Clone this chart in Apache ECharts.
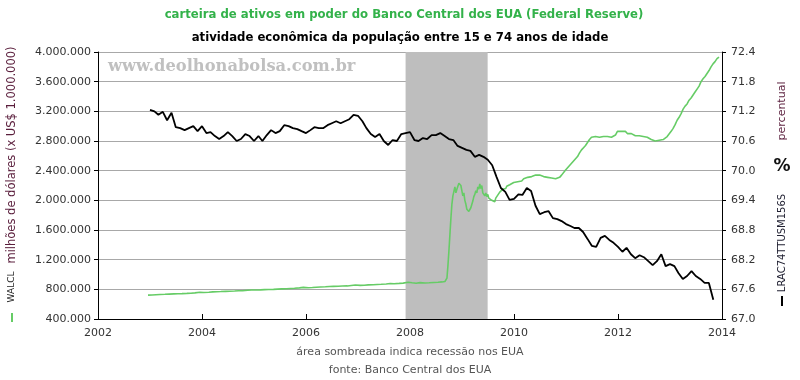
<!DOCTYPE html>
<html><head><meta charset="utf-8">
<script src="https://cdn.jsdelivr.net/npm/echarts@6/dist/echarts.min.js"></script>
<style>html,body{margin:0;padding:0;background:#fff}#c{width:800px;height:380px}</style>
</head><body><div id="c"></div>
<script>
// ---- data ----
const titleTop = 'carteira de ativos em poder do Banco Central dos EUA (Federal Reserve)';
const titleSub = 'atividade econômica da população entre 15 e 74 anos de idade';
const leftAxisName = 'milhões de dólares (x US$ 1.000.000)';
const rightAxisName = 'percentual';
const greenSeriesName = 'WALCL';
const blackSeriesName = 'LRAC74TTUSM156S';
const noteText = 'área sombreada indica recessão nos EUA';
const sourceText = 'fonte: Banco Central dos EUA';
const watermark = 'www.deolhonabolsa.com.br';
const recessionStart = '2007-12-01';
const recessionEnd = '2009-06-30';
const xTicks = [2002, 2004, 2006, 2008, 2010, 2012, 2014];

const greenDates = [
'2002-12-18','2003-01-15','2003-02-12','2003-03-12','2003-04-16','2003-05-14','2003-06-18','2003-07-16','2003-08-13','2003-09-17','2003-10-15','2003-11-12','2003-12-17',
'2004-01-14','2004-02-18','2004-03-17','2004-04-14','2004-05-12','2004-06-16','2004-07-14','2004-08-18','2004-09-15','2004-10-13','2004-11-17','2004-12-15',
'2005-01-12','2005-02-16','2005-03-16','2005-04-13','2005-05-18','2005-06-15','2005-07-13','2005-08-17','2005-09-14','2005-10-12','2005-11-16','2005-12-14',
'2006-01-18','2006-02-15','2006-03-15','2006-04-12','2006-05-17','2006-06-14','2006-07-12','2006-08-16','2006-09-13','2006-10-18','2006-11-15','2006-12-13',
'2007-01-17','2007-02-14','2007-03-14','2007-04-18','2007-05-16','2007-06-13','2007-07-18','2007-08-15','2007-09-12','2007-10-17','2007-11-14','2007-12-19',
'2008-01-16','2008-02-13','2008-03-12','2008-04-16','2008-05-14','2008-06-18','2008-07-16','2008-08-13','2008-08-27','2008-09-03','2008-09-10','2008-09-17','2008-09-24',
'2008-10-01','2008-10-08','2008-10-15','2008-10-22','2008-10-29','2008-11-05','2008-11-12','2008-11-19','2008-11-26','2008-12-03','2008-12-10','2008-12-17','2008-12-24','2008-12-31',
'2009-01-07','2009-01-14','2009-01-21','2009-01-28','2009-02-04','2009-02-11','2009-02-18','2009-02-25','2009-03-04','2009-03-11','2009-03-18','2009-03-25',
'2009-04-01','2009-04-08','2009-04-15','2009-04-22','2009-04-29','2009-05-06','2009-05-13','2009-05-20','2009-05-27','2009-06-03','2009-06-10','2009-06-17','2009-06-24',
'2009-07-01','2009-07-08','2009-07-15','2009-07-22','2009-07-29','2009-08-05','2009-08-12','2009-08-19','2009-08-26','2009-09-02','2009-09-09','2009-09-16','2009-09-23','2009-09-30',
'2009-10-07','2009-10-14','2009-10-21','2009-10-28','2009-11-04','2009-11-11','2009-11-18','2009-11-25','2009-12-02','2009-12-09','2009-12-16','2009-12-30',
'2010-01-13','2010-01-27','2010-02-10','2010-02-24','2010-03-10','2010-03-24','2010-04-07','2010-04-21','2010-05-05','2010-05-19','2010-06-02','2010-06-16','2010-06-30',
'2010-07-14','2010-07-28','2010-08-11','2010-08-25','2010-09-08','2010-09-22','2010-10-06','2010-10-20','2010-11-03','2010-11-17','2010-12-01','2010-12-15','2010-12-29',
'2011-01-12','2011-01-26','2011-02-09','2011-02-23','2011-03-09','2011-03-23','2011-04-06','2011-04-20','2011-05-04','2011-05-18','2011-06-01','2011-06-15','2011-06-29',
'2011-07-13','2011-07-27','2011-08-10','2011-08-24','2011-09-07','2011-09-21','2011-10-05','2011-10-19','2011-11-02','2011-11-16','2011-11-30','2011-12-14','2011-12-28',
'2012-01-11','2012-01-25','2012-02-08','2012-02-22','2012-03-07','2012-03-21','2012-04-04','2012-04-18','2012-05-02','2012-05-16','2012-05-30','2012-06-13','2012-06-27',
'2012-07-11','2012-07-25','2012-08-08','2012-08-22','2012-09-05','2012-09-19','2012-10-03','2012-10-17','2012-10-31','2012-11-14','2012-11-28','2012-12-12','2012-12-26',
'2013-01-09','2013-01-23','2013-02-06','2013-02-20','2013-03-06','2013-03-20','2013-04-03','2013-04-17','2013-05-01','2013-05-15','2013-05-29','2013-06-12','2013-06-26',
'2013-07-10','2013-07-24','2013-08-07','2013-08-21','2013-09-04','2013-09-18','2013-10-02','2013-10-16','2013-10-30','2013-11-13','2013-11-27','2013-12-11'
];
const greenValues = [
722000,724000,727000,730000,733000,736000,739000,741000,742000,745000,748000,752000,760000,
758000,761000,766000,768000,770000,773000,774000,777000,780000,781000,788000,792000,
790000,793000,796000,798000,800000,803000,806000,808000,812000,814000,820000,826000,
822000,824000,828000,832000,835000,838000,840000,842000,845000,846000,852000,858000,
853000,856000,860000,862000,866000,868000,872000,878000,876000,880000,884000,895000,
888000,882000,890000,885000,888000,892000,895000,900000,905000,906000,912000,950000,1120000,
1320000,1540000,1760000,1950000,2060000,2120000,2180000,2100000,2150000,2160000,2230000,2250000,2200000,2180000,
2060000,2100000,2000000,1950000,1880000,1900000,1850000,1860000,1900000,1920000,1990000,2050000,
2080000,2130000,2100000,2180000,2150000,2220000,2160000,2200000,2100000,2120000,2060000,2100000,2050000,
2080000,2030000,2050000,2010000,2000000,1990000,2010000,1980000,2030000,2050000,2070000,2090000,2110000,2100000,
2130000,2150000,2140000,2170000,2160000,2190000,2180000,2200000,2210000,2200000,2230000,2240000,
2230000,2250000,2270000,2260000,2290000,2300000,2310000,2320000,2320000,2330000,2340000,2330000,2340000,
2330000,2320000,2320000,2310000,2300000,2300000,2300000,2290000,2300000,2310000,2340000,2360000,2410000,
2430000,2470000,2500000,2530000,2560000,2590000,2640000,2680000,2710000,2740000,2780000,2820000,2850000,
2870000,2860000,2870000,2850000,2870000,2860000,2850000,2860000,2860000,2850000,2870000,2880000,2930000,
2920000,2930000,2920000,2930000,2900000,2890000,2900000,2880000,2870000,2860000,2870000,2860000,2860000,
2850000,2850000,2830000,2820000,2810000,2800000,2800000,2810000,2800000,2820000,2840000,2860000,2880000,
2930000,2970000,3020000,3080000,3120000,3170000,3230000,3270000,3300000,3350000,3380000,3420000,3460000,
3500000,3540000,3600000,3640000,3670000,3710000,3750000,3800000,3840000,3870000,3910000,3930000
];

const blackStart = '2003-01';
const blackValues = [
71.23,71.20,71.13,71.19,71.02,71.17,70.88,70.86,70.82,70.86,70.90,70.80,
70.90,70.76,70.78,70.70,70.64,70.70,70.78,70.70,70.60,70.64,70.74,70.70,
70.60,70.70,70.60,70.72,70.82,70.76,70.80,70.92,70.90,70.86,70.84,70.80,
70.76,70.82,70.88,70.86,70.86,70.92,70.96,71.00,70.96,71.00,71.04,71.13,
71.11,71.00,70.86,70.74,70.68,70.74,70.60,70.52,70.62,70.60,70.74,70.76,
70.78,70.62,70.60,70.66,70.64,70.72,70.72,70.76,70.70,70.64,70.62,70.50,
70.46,70.42,70.40,70.28,70.32,70.28,70.22,70.11,69.87,69.65,69.57,69.41,
69.43,69.52,69.51,69.65,69.59,69.29,69.12,69.16,69.18,69.04,69.02,68.98,
68.92,68.88,68.84,68.84,68.76,68.62,68.48,68.46,68.64,68.68,68.60,68.54,
68.46,68.36,68.44,68.31,68.23,68.29,68.25,68.17,68.09,68.17,68.31,68.07,
68.11,68.07,67.93,67.81,67.87,67.97,67.87,67.81,67.73,67.73,67.39
];

// ---- helpers ----
function toYear(s) {
  const p = s.split('-').map(Number);
  const y = p[0], m = (p[1] || 1) - 1, d = p[2] || 1;
  const t = Date.UTC(y, m, d), t0 = Date.UTC(y, 0, 1), t1 = Date.UTC(y + 1, 0, 1);
  return y + (t - t0) / (t1 - t0);
}
function monthSeq(start, n) {
  const p = start.split('-').map(Number);
  const out = [];
  for (let i = 0; i < n; i++) {
    const mm = p[1] - 1 + i;
    const y = p[0] + Math.floor(mm / 12), m = (mm % 12) + 1;
    out.push(y + '-' + (m < 10 ? '0' + m : m) + '-01');
  }
  return out;
}
function dots(v) { return String(Math.round(v)).replace(/\B(?=(\d{3})+(?!\d))/g, '.'); }

const blackDates = monthSeq(blackStart, blackValues.length);
const greenData = greenDates.map((d, i) => [toYear(d), greenValues[i]]);
const blackData = blackDates.map((d, i) => [toYear(d), blackValues[i]]);

const FONT = '"DejaVu Sans", Verdana, sans-serif';
const chart = echarts.init(document.getElementById('c'), null, {renderer: 'canvas'});
chart.setOption({
  animation: false,
  backgroundColor: '#ffffff',
  grid: {left: 98, right: 78, top: 52, bottom: 61},
  xAxis: {
    type: 'value', min: xTicks[0], max: xTicks[xTicks.length - 1], interval: 2,
    axisLine: {show: true, lineStyle: {color: '#000', width: 1}},
    axisTick: {show: true, inside: true, length: 5, lineStyle: {color: '#000'}},
    axisLabel: {color: '#333', fontFamily: FONT, fontSize: 11, margin: 9, formatter: v => String(v)},
    splitLine: {show: false}
  },
  yAxis: [{
    type: 'value', position: 'left', min: 400000, max: 4000000, interval: 400000,
    axisLine: {show: true, lineStyle: {color: '#000', width: 1}},
    axisTick: {show: true, length: 4, lineStyle: {color: '#000'}},
    axisLabel: {color: '#333', fontFamily: FONT, fontSize: 11, margin: 7, formatter: v => dots(v)},
    splitLine: {show: true, lineStyle: {color: '#a8a8a8', width: 1}}
  }, {
    type: 'value', position: 'right', min: 67.0, max: 72.4, interval: 0.6,
    axisLine: {show: true, lineStyle: {color: '#000', width: 1}},
    axisTick: {show: true, length: 4, lineStyle: {color: '#000'}},
    axisLabel: {color: '#333', fontFamily: FONT, fontSize: 11, margin: 9, formatter: v => v.toFixed(1)},
    splitLine: {show: false}
  }],
  series: [{
    name: greenSeriesName, type: 'line', yAxisIndex: 0, data: greenData,
    showSymbol: false, symbol: 'none', z: 2,
    lineStyle: {color: '#66cc66', width: 1.6},
    markArea: {
      silent: true, z: 1,
      itemStyle: {color: '#bebebe'},
      data: [[{xAxis: toYear(recessionStart)}, {xAxis: toYear(recessionEnd)}]]
    }
  }, {
    name: blackSeriesName, type: 'line', yAxisIndex: 1, data: blackData,
    showSymbol: false, symbol: 'none', z: 3,
    lineStyle: {color: '#000000', width: 1.8}
  }],
  graphic: [
    {type: 'text', x: 404, y: 15, style: {text: titleTop, textAlign: 'center', textVerticalAlign: 'middle', font: 'bold 11.7px ' + FONT, fill: '#33b24a'}},
    {type: 'text', x: 400, y: 38, style: {text: titleSub, textAlign: 'center', textVerticalAlign: 'middle', font: 'bold 11.7px ' + FONT, fill: '#000'}},
    {type: 'text', x: 108, y: 67, z: 5, style: {text: watermark, textAlign: 'left', textVerticalAlign: 'middle', font: 'bold 16.3px "DejaVu Serif", Georgia, serif', fill: '#c0c0c0'}},
    {type: 'text', x: 12, y: 155, rotation: Math.PI / 2, style: {text: leftAxisName, textAlign: 'center', textVerticalAlign: 'middle', font: '11.5px ' + FONT, fill: '#5a1e3c'}},
    {type: 'text', x: 12, y: 287, rotation: Math.PI / 2, style: {text: greenSeriesName, textAlign: 'center', textVerticalAlign: 'middle', font: '9px ' + FONT, fill: '#222'}},
    {type: 'rect', shape: {x: 11, y: 313, width: 2, height: 9}, style: {fill: '#66cc66'}},
    {type: 'text', x: 782, y: 111, rotation: Math.PI / 2, style: {text: rightAxisName, textAlign: 'center', textVerticalAlign: 'middle', font: '11px ' + FONT, fill: '#5a1e3c'}},
    {type: 'text', x: 782, y: 167, style: {text: '%', textAlign: 'center', textVerticalAlign: 'middle', font: 'bold 17px ' + FONT, fill: '#111'}},
    {type: 'text', x: 782, y: 243, rotation: Math.PI / 2, style: {text: blackSeriesName, textAlign: 'center', textVerticalAlign: 'middle', font: '10px ' + FONT, fill: '#223'}},
    {type: 'rect', shape: {x: 781, y: 296, width: 2, height: 10}, style: {fill: '#000'}},
    {type: 'text', x: 410, y: 352, style: {text: noteText, textAlign: 'center', textVerticalAlign: 'middle', font: '11px ' + FONT, fill: '#555'}},
    {type: 'text', x: 410, y: 370, style: {text: sourceText, textAlign: 'center', textVerticalAlign: 'middle', font: '11px ' + FONT, fill: '#555'}}
  ]
});
</script></body></html>
